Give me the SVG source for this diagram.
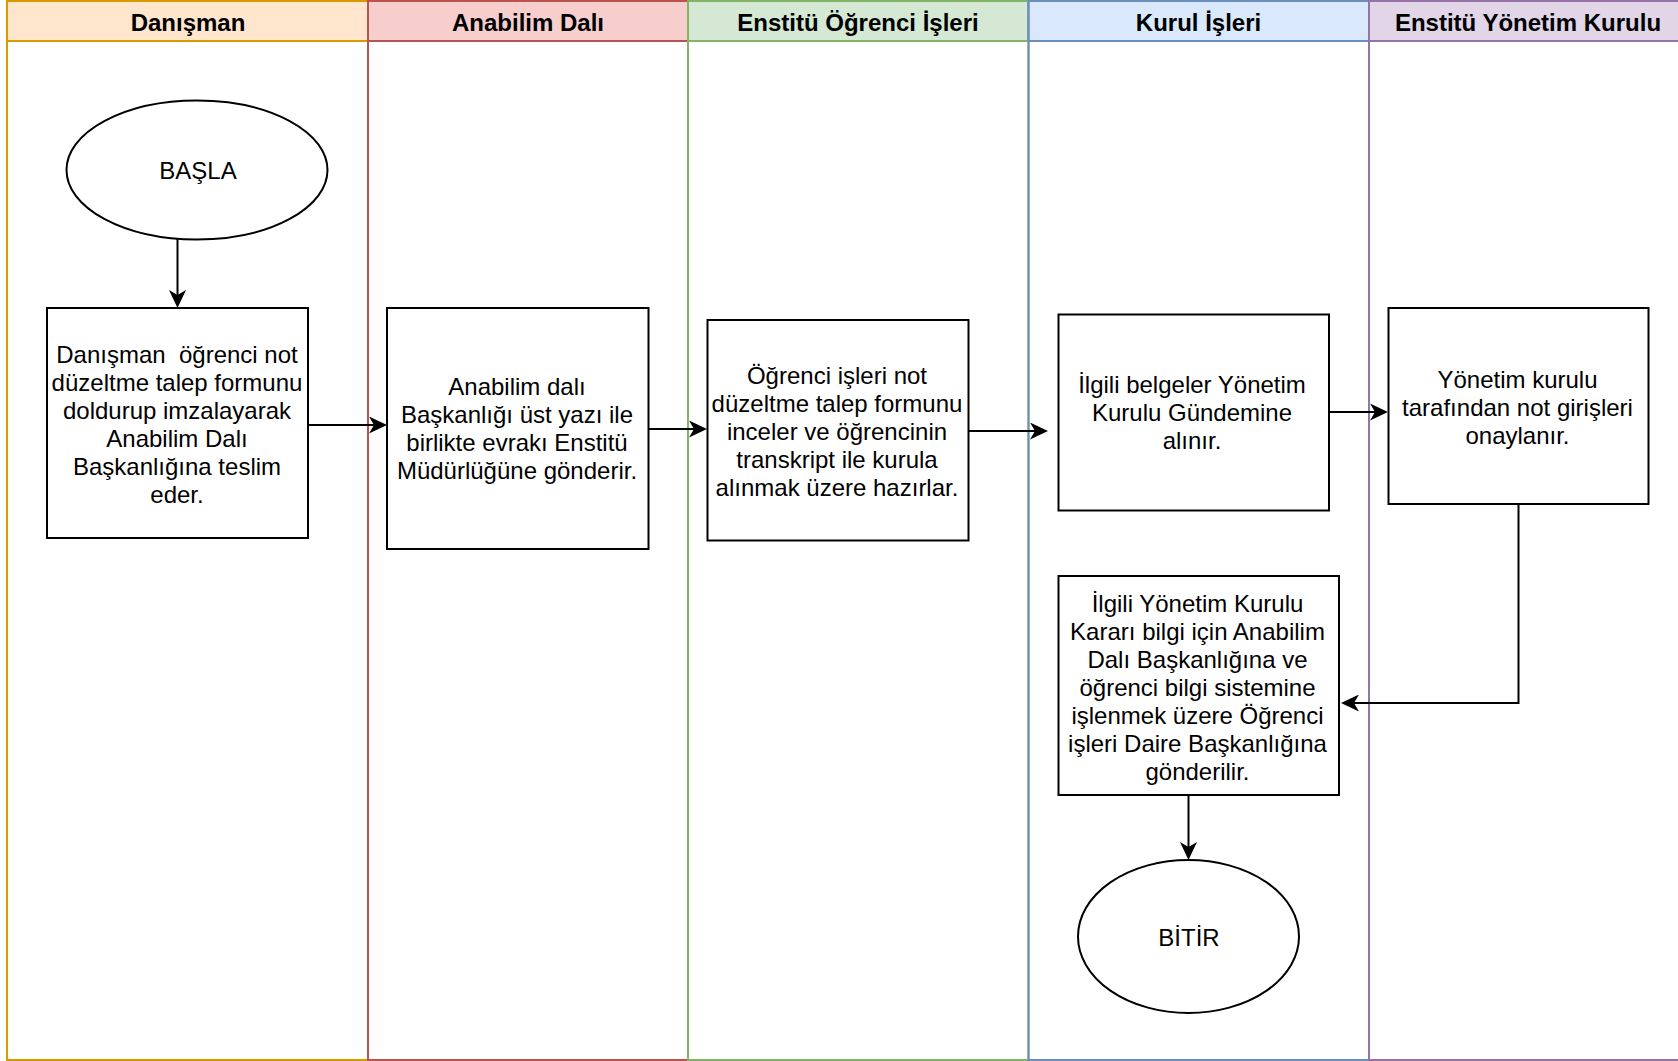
<svg xmlns="http://www.w3.org/2000/svg" width="1678" height="1061" viewBox="0 0 1678 1061">
<style>
.lane{fill:none;stroke-width:2}
.hdr{stroke-width:2}
.ht{font-family:"Liberation Sans",Arial,sans-serif;font-size:24px;font-weight:bold;fill:#000;text-anchor:middle}
.box{fill:#fff;stroke:#000;stroke-width:2}
.t{font-family:"Liberation Sans",Arial,sans-serif;font-size:24px;fill:#000;text-anchor:middle;white-space:pre}
.c{fill:none;stroke:#000;stroke-width:2}
</style>
<defs>
<marker id="ah" viewBox="0 0 18 17" refX="13" refY="8.5" markerWidth="18" markerHeight="17" markerUnits="userSpaceOnUse" orient="auto">
<path d="M0,0 L18,8.5 L0,17 L5,8.5 Z" fill="#000"/>
</marker>
</defs>
<rect width="1678" height="1061" fill="#fff"/>
<g id="lane-danisman">
<rect class="hdr" x="7" y="1" width="361" height="40" fill="#ffe6cc" stroke="#d79b00"/>
<rect class="lane" x="7" y="1" width="361" height="1059" stroke="#d79b00"/>
<text class="ht" x="188" y="31">Danışman</text>
</g>
<g id="lane-anabilim">
<rect class="hdr" x="368" y="1" width="320" height="40" fill="#f8cecc" stroke="#b85450"/>
<rect class="lane" x="368" y="1" width="320" height="1059" stroke="#b85450"/>
<text class="ht" x="528" y="31">Anabilim Dalı</text>
</g>
<g id="lane-ogrenci">
<rect class="hdr" x="688" y="1" width="340.5" height="40" fill="#d5e8d4" stroke="#82b366"/>
<rect class="lane" x="688" y="1" width="340.5" height="1059" stroke="#82b366"/>
<text class="ht" x="858" y="31">Enstitü Öğrenci İşleri</text>
</g>
<g id="lane-kurul">
<rect class="hdr" x="1028.5" y="1" width="340.5" height="40" fill="#dae8fc" stroke="#6c8ebf"/>
<rect class="lane" x="1028.5" y="1" width="340.5" height="1059" stroke="#6c8ebf"/>
<text class="ht" x="1198.5" y="31">Kurul İşleri</text>
</g>
<g id="lane-yonetim">
<rect class="hdr" x="1369" y="1" width="340" height="40" fill="#e1d5e7" stroke="#9673a6"/>
<rect class="lane" x="1369" y="1" width="340" height="1059" stroke="#9673a6"/>
<text class="ht" x="1528" y="31">Enstitü Yönetim Kurulu</text>
</g>
<g id="connectors">
<path class="c" d="M177.5,239 V303" marker-end="url(#ah)"/>
<path class="c" d="M308,425 H382" marker-end="url(#ah)"/>
<path class="c" d="M648.5,429 H702" marker-end="url(#ah)"/>
<path class="c" d="M968.5,431 H1043" marker-end="url(#ah)"/>
<path class="c" d="M1329,412 H1383" marker-end="url(#ah)"/>
<path class="c" d="M1518.5,504 V703 H1346" marker-end="url(#ah)"/>
<path class="c" d="M1188.5,795 V855" marker-end="url(#ah)"/>
</g>
<g id="start">
<ellipse class="box" cx="197" cy="170" rx="130.5" ry="69.5"/>
<text class="t" x="198" y="179">BAŞLA</text>
</g>
<g id="step1">
<rect class="box" x="47" y="308" width="261" height="230"/>
<text class="t" x="177"><tspan x="177" y="363">Danışman  öğrenci not</tspan><tspan x="177" y="391">düzeltme talep formunu</tspan><tspan x="177" y="419">doldurup imzalayarak</tspan><tspan x="177" y="447">Anabilim Dalı</tspan><tspan x="177" y="475">Başkanlığına teslim</tspan><tspan x="177" y="503">eder.</tspan></text>
</g>
<g id="step2">
<rect class="box" x="387" y="308" width="261.5" height="241"/>
<text class="t"><tspan x="517" y="395">Anabilim dalı</tspan><tspan x="517" y="423">Başkanlığı üst yazı ile</tspan><tspan x="517" y="451">birlikte evrakı Enstitü</tspan><tspan x="517" y="479">Müdürlüğüne gönderir.</tspan></text>
</g>
<g id="step3">
<rect class="box" x="707.5" y="320" width="261" height="220.5"/>
<text class="t"><tspan x="837" y="384">Öğrenci işleri not</tspan><tspan x="837" y="412">düzeltme talep formunu</tspan><tspan x="837" y="440">inceler ve öğrencinin</tspan><tspan x="837" y="468">transkript ile kurula</tspan><tspan x="837" y="496">alınmak üzere hazırlar.</tspan></text>
</g>
<g id="step4">
<rect class="box" x="1058.5" y="314.5" width="270.5" height="196"/>
<text class="t"><tspan x="1192" y="393">İlgili belgeler Yönetim</tspan><tspan x="1192" y="421">Kurulu Gündemine</tspan><tspan x="1192" y="449">alınır.</tspan></text>
</g>
<g id="step5">
<rect class="box" x="1388.5" y="308" width="260" height="196"/>
<text class="t"><tspan x="1517.5" y="388">Yönetim kurulu</tspan><tspan x="1517.5" y="416">tarafından not girişleri</tspan><tspan x="1517.5" y="444">onaylanır.</tspan></text>
</g>
<g id="step6">
<rect class="box" x="1058.5" y="576" width="280.5" height="219"/>
<text class="t"><tspan x="1197.5" y="612">İlgili Yönetim Kurulu</tspan><tspan x="1197.5" y="640">Kararı bilgi için Anabilim</tspan><tspan x="1197.5" y="668">Dalı Başkanlığına ve</tspan><tspan x="1197.5" y="696">öğrenci bilgi sistemine</tspan><tspan x="1197.5" y="724">işlenmek üzere Öğrenci</tspan><tspan x="1197.5" y="752">işleri Daire Başkanlığına</tspan><tspan x="1197.5" y="780">gönderilir.</tspan></text>
</g>
<g id="end">
<ellipse class="box" cx="1188.5" cy="936.5" rx="110.5" ry="76.5"/>
<text class="t" x="1189" y="946">BİTİR</text>
</g>
</svg>
